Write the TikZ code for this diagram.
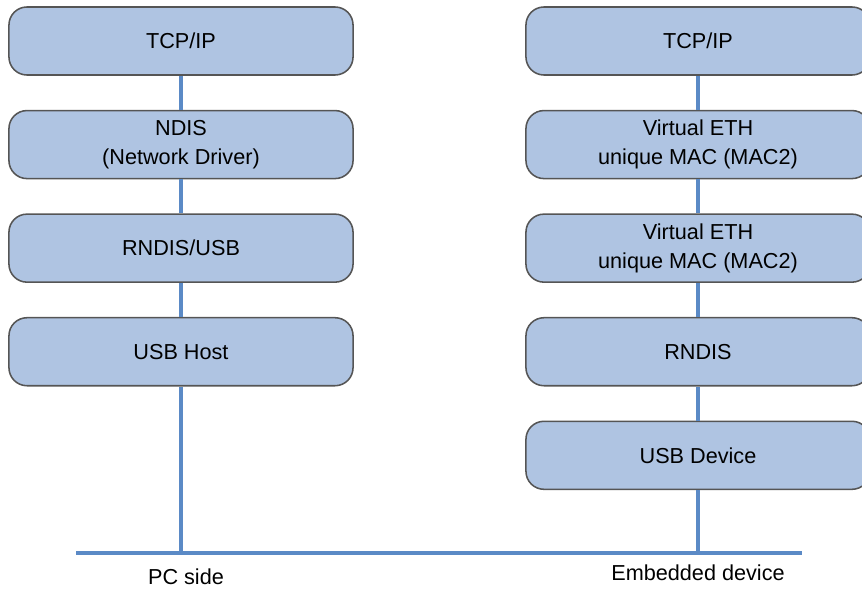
\documentclass[tikz,border=0pt]{standalone}
\usepackage{fontspec}
\setmainfont{Liberation Sans}
\usepackage{tikz}
\usetikzlibrary{positioning}
\definecolor{layerfill}{RGB}{175,196,226}
\definecolor{layerline}{RGB}{85,85,85}
\definecolor{buscolor}{RGB}{91,138,198}

\begin{document}
\begin{tikzpicture}[x=0.025cm,y=-0.025cm,node distance=0.85cm,
	layer/.style={draw=layerline,line width=1.1pt,fill=layerfill,rounded corners=0.45cm,
		minimum width=8.6cm,minimum height=1.7cm,inner sep=0pt,align=center,
		font=\fontsize{15.4}{20.6}\selectfont},
	label/.style={font=\fontsize{15.4}{20.6}\selectfont},
	bus/.style={draw=buscolor,line width=2.5pt}]
\useasboundingbox (0,0) rectangle (862,590);

% PC side
\node	[layer]	(pctcp)		at (181,41)			{TCP/IP};
\node	[layer]	(ndis)		[below=of pctcp]	{NDIS\\(Network Driver)};
\node	[layer]	(rndisusb)	[below=of ndis]		{RNDIS/USB};
\node	[layer]	(usbhost)	[below=of rndisusb]	{USB Host};

% embedded side
\node	[layer]	(devtcp)	at (698,41)			{TCP/IP};
\node	[layer]	(veth1)		[below=of devtcp]	{Virtual ETH\\unique MAC (MAC2)};
\node	[layer]	(veth2)		[below=of veth1]	{Virtual ETH\\unique MAC (MAC2)};
\node	[layer]	(rndis)		[below=of veth2]	{RNDIS};
\node	[layer]	(usbdev)	[below=of rndis]	{USB Device};

% bus
\coordinate (busl) at (76,553);
\coordinate (busr) at (802,553);
\node	[label]	(pcside)	at (186,577)		{PC side};
\node	[label]	(embside)	at (698,573)		{Embedded device};

\path	[bus]
	(pctcp)		edge	(ndis)
	(ndis)		edge	(rndisusb)
	(rndisusb)	edge	(usbhost)
	(usbhost)	edge	(usbhost |- busl)
	(devtcp)	edge	(veth1)
	(veth1)		edge	(veth2)
	(veth2)		edge	(rndis)
	(rndis)		edge	(usbdev)
	(usbdev)	edge	(usbdev |- busl)
	(busl)		edge	(busr)
;
\end{tikzpicture}
\end{document}
